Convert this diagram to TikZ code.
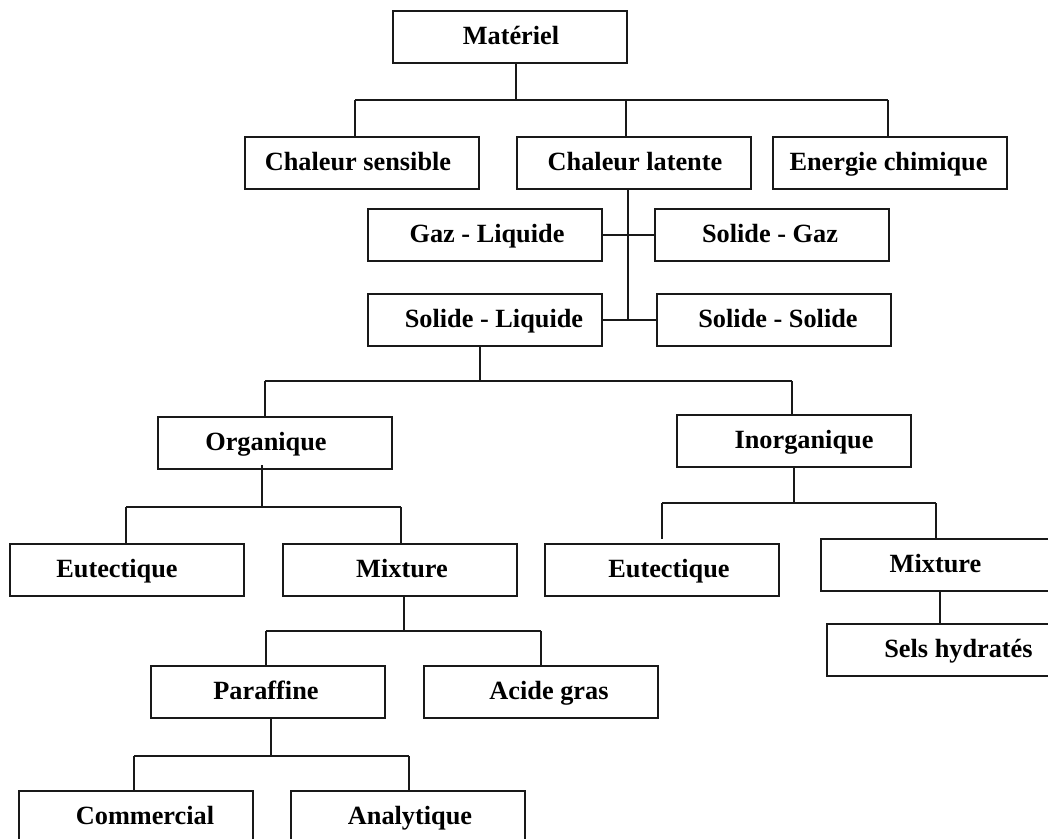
\documentclass[tikz,border=0pt]{standalone}
\usepackage{fontspec}
\setmainfont{Liberation Serif}
\begin{document}
\begin{tikzpicture}[x=1pt,y=-1pt,
  bx/.style={draw=black!90,line width=2pt,rectangle,inner sep=0pt,outer sep=0pt,
    minimum width=234pt,minimum height=52pt,text height=18pt,text depth=4pt,
    font=\fontsize{26.3}{30}\selectfont\bfseries},
  tx/.style={execute at begin node={\hspace*{#1}}},
  ln/.style={line width=2pt,draw=black!90}]
\useasboundingbox (0,0) rectangle (1048,838);
\clip (0,0) rectangle (1048,838);
% boxes
\node[bx,tx=2pt]   (mat)   at (510,37)  {Matériel};
\node[bx,tx=-8pt]  (cs)    at (362,163) {Chaleur sensible};
\node[bx,tx=2pt]   (cl)    at (634,163) {Chaleur latente};
\node[bx,tx=-3pt]  (ec)    at (890,163) {Energie chimique};
\node[bx,tx=4pt]   (gl)    at (485,235) {Gaz - Liquide};
\node[bx,tx=-4pt]  (sg)    at (772,235) {Solide - Gaz};
\node[bx,tx=18pt]  (sl)    at (485,320) {Solide - Liquide};
\node[bx,tx=8pt]   (ss)    at (774,320) {Solide - Solide};
\node[bx,tx=-18pt] (org)   at (275,443) {Organique};
\node[bx,tx=20pt]  (inorg) at (794,441) {Inorganique};
\node[bx,tx=-20pt] (eutL)  at (127,570) {Eutectique};
\node[bx,tx=4pt]   (mixL)  at (400,570) {Mixture};
\node[bx,tx=14pt]  (eutR)  at (662,570) {Eutectique};
\node[bx,tx=-5pt]  (mixR)  at (938,565) {Mixture};
\node[bx,tx=29pt,yshift=3pt] (sels) at (944,653) {Sels hydratés};
\node[bx,tx=-4pt]  (par)   at (268,692) {Paraffine};
\node[bx,tx=16pt]  (acide) at (541,692) {Acide gras};
\node[bx,tx=18pt]  (com)   at (136,817) {Commercial};
\node[bx,tx=4pt]   (ana)   at (408,817) {Analytique};
% junction coordinates
\coordinate (j1) at (516,100);
\coordinate (b1l) at (355,100);
\coordinate (b1m) at (626,100);
\coordinate (b1r) at (888,100);
\coordinate (j2) at (628,320);
\coordinate (j3) at (480,381);
\coordinate (b3l) at (265,381);
\coordinate (b3r) at (792,381);
\coordinate (j4) at (262,507);
\coordinate (b4l) at (126,507);
\coordinate (b4r) at (401,507);
\coordinate (j5) at (794,503);
\coordinate (b5l) at (662,503);
\coordinate (b5r) at (936,503);
\coordinate (j6) at (940,591);
\coordinate (j7) at (404,631);
\coordinate (b7l) at (266,631);
\coordinate (b7r) at (541,631);
\coordinate (j8) at (271,756);
\coordinate (b8l) at (134,756);
\coordinate (b8r) at (409,756);
% connectors
\draw[ln] (mat.south -| j1) -- (j1);
\draw[ln] (b1l) -- (b1r);
\draw[ln] (b1l) -- (b1l |- cs.north);
\draw[ln] (b1m) -- (b1m |- cl.north);
\draw[ln] (b1r) -- (b1r |- ec.north);
\draw[ln] (cl.south -| j2) -- (j2);
\draw[ln] (gl.east) -- (sg.west);
\draw[ln] (sl.east) -- (ss.west);
\draw[ln] (sl.south -| j3) -- (j3);
\draw[ln] (b3l) -- (b3r);
\draw[ln] (b3l) -- (b3l |- org.north);
\draw[ln] (b3r) -- (b3r |- inorg.north);
\draw[ln] ([yshift=4pt]org.south -| j4) -- (j4);
\draw[ln] (b4l) -- (b4r);
\draw[ln] (b4l) -- (b4l |- eutL.north);
\draw[ln] (b4r) -- (b4r |- mixL.north);
\draw[ln] (inorg.south -| j5) -- (j5);
\draw[ln] (b5l) -- (b5r);
\draw[ln] (b5l) -- (b5l |- mixR.north);
\draw[ln] (b5r) -- (b5r |- mixR.north);
\draw[ln] (mixR.south -| j6) -- (j6 |- sels.north);
\draw[ln] (mixL.south -| j7) -- (j7);
\draw[ln] (b7l) -- (b7r);
\draw[ln] (b7l) -- (b7l |- par.north);
\draw[ln] (b7r) -- (b7r |- acide.north);
\draw[ln] (par.south -| j8) -- (j8);
\draw[ln] (b8l) -- (b8r);
\draw[ln] (b8l) -- (b8l |- com.north);
\draw[ln] (b8r) -- (b8r |- ana.north);
\end{tikzpicture}
\end{document}
